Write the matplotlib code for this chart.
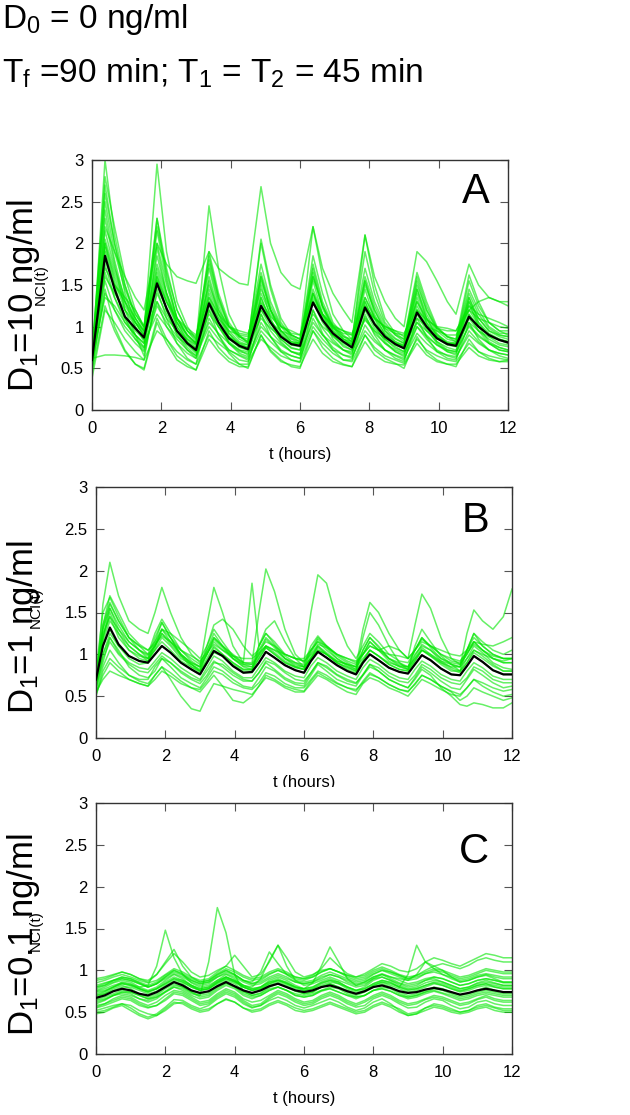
import numpy as np
import matplotlib
matplotlib.use('Agg')
import matplotlib.pyplot as plt
from matplotlib.ticker import FormatStrFormatter
from matplotlib.transforms import Bbox, TransformedBbox

plt.rcParams['font.family'] = ['Liberation Sans', 'DejaVu Sans']
plt.rcParams['mathtext.fontset'] = 'custom'
plt.rcParams['mathtext.rm'] = 'Liberation Sans'
plt.rcParams['mathtext.it'] = 'Liberation Sans'

# ---- panel A : D1 = 10 ng/ml  (time in hours)
t_a = [0, 0.375, 0.65, 0.95, 1.25, 1.5, 1.875, 2.15, 2.45, 2.75, 3.0, 3.375, 3.65, 3.95, 4.25,
       4.5, 4.875, 5.15, 5.45, 5.75, 6.0, 6.375, 6.65, 6.95, 7.25, 7.5, 7.875, 8.15, 8.45, 8.75,
       9.0, 9.375, 9.65, 9.95, 10.25, 10.5, 10.875, 11.15, 11.45, 11.75, 12.0]
mean_a = [0.60, 1.85, 1.45, 1.12, 0.98, 0.87, 1.52, 1.22, 0.95, 0.80, 0.72, 1.28, 1.05, 0.86, 0.77,
          0.73, 1.25, 1.05, 0.88, 0.79, 0.77, 1.29, 1.08, 0.92, 0.82, 0.75, 1.23, 1.03, 0.88, 0.79,
          0.74, 1.17, 1.00, 0.86, 0.79, 0.77, 1.12, 1.00, 0.90, 0.84, 0.81]
cells_a = [
    [0.55, 3.0, 2.1, 1.5, 1.1, 0.95, 2.95, 1.9, 1.3, 1.0, 0.85, 1.85, 1.35, 1.0, 0.85,
     0.8, 1.6, 1.2, 0.95, 0.85, 0.8, 1.7, 1.25, 1.0, 0.85, 0.82, 1.55, 1.2, 0.95, 0.85,
     0.8, 1.45, 1.1, 0.9, 0.82, 0.8, 1.35, 1.1, 0.95, 0.9, 0.88],
    [0.65, 2.4, 1.8, 1.3, 1.0, 0.85, 2.3, 1.6, 1.1, 0.9, 0.8, 2.45, 1.7, 1.15, 0.9,
     0.8, 2.05, 1.5, 1.1, 0.9, 0.85, 2.2, 1.6, 1.15, 0.95, 0.85, 1.9, 1.4, 1.05, 0.9,
     0.82, 1.6, 1.25, 0.98, 0.88, 0.85, 1.62, 1.3, 1.05, 0.95, 0.9],
    [0.6, 2.2, 1.9, 1.6, 1.35, 1.2, 2.0, 1.75, 1.6, 1.55, 1.52, 1.9, 1.7, 1.6, 1.52,
     1.5, 2.68, 2.0, 1.65, 1.5, 1.45, 2.2, 1.7, 1.4, 1.2, 1.05, 2.1, 1.6, 1.3, 1.1,
     1.0, 1.9, 1.78, 1.55, 1.3, 1.15, 1.75, 1.5, 1.35, 1.3, 1.3],
    [0.62, 0.66, 0.66, 0.65, 0.63, 0.6, 0.95, 0.85, 0.7, 0.6, 0.55, 0.9, 0.8, 0.7, 0.6,
     0.58, 0.85, 0.75, 0.65, 0.6, 0.57, 0.95, 0.8, 0.68, 0.6, 0.58, 0.9, 0.75, 0.65, 0.6,
     0.56, 0.85, 0.72, 0.65, 0.6, 0.58, 0.8, 0.7, 0.65, 0.62, 0.6],
    [0.55, 2.0, 1.6, 1.25, 1.05, 0.9, 1.7, 1.35, 1.05, 0.85, 0.75, 1.45, 1.15, 0.92, 0.8,
     0.75, 1.4, 1.15, 0.95, 0.82, 0.8, 1.45, 1.15, 0.95, 0.85, 0.78, 1.35, 1.1, 0.92, 0.82,
     0.76, 1.3, 1.05, 0.9, 0.8, 0.78, 1.25, 1.05, 0.92, 0.85, 0.82],
    [0.5, 1.55, 1.2, 0.95, 0.8, 0.7, 1.3, 1.0, 0.8, 0.68, 0.62, 1.1, 0.9, 0.72, 0.65,
     0.6, 1.05, 0.88, 0.72, 0.65, 0.62, 1.1, 0.9, 0.75, 0.66, 0.62, 1.02, 0.85, 0.72, 0.65,
     0.6, 1.0, 0.85, 0.72, 0.65, 0.62, 0.95, 0.82, 0.72, 0.68, 0.66],
    [0.45, 1.25, 0.95, 0.7, 0.55, 0.5, 1.1, 0.85, 0.65, 0.55, 0.48, 0.95, 0.75, 0.62, 0.55,
     0.5, 0.9, 0.72, 0.6, 0.52, 0.5, 0.95, 0.75, 0.62, 0.55, 0.52, 0.9, 0.72, 0.62, 0.56,
     0.5, 0.88, 0.7, 0.6, 0.55, 0.52, 0.85, 0.7, 0.62, 0.58, 0.6],
    [0.7, 2.6, 2.0, 1.5, 1.15, 1.0, 2.0, 1.5, 1.1, 0.9, 0.8, 1.9, 1.4, 1.05, 0.88,
     0.82, 2.0, 1.45, 1.05, 0.88, 0.82, 1.85, 1.4, 1.05, 0.9, 0.82, 2.1, 1.5, 1.1, 0.92,
     0.85, 1.65, 1.3, 1.0, 0.88, 0.82, 1.55, 1.25, 1.05, 0.95, 0.95],
    [0.6, 1.8, 1.5, 1.3, 1.1, 0.95, 1.6, 1.3, 1.05, 0.9, 0.8, 1.3, 1.1, 0.95, 0.9,
     0.88, 1.2, 1.05, 0.95, 0.9, 0.85, 1.3, 1.15, 1.0, 0.95, 0.9, 1.2, 1.1, 1.0, 0.95,
     0.88, 1.1, 1.0, 0.95, 0.9, 0.9, 1.2, 1.3, 1.35, 1.3, 1.25],
    [0.58, 1.75, 1.35, 1.05, 0.9, 0.8, 1.5, 1.2, 0.95, 0.8, 0.7, 1.25, 1.0, 0.82, 0.72,
     0.7, 1.2, 1.0, 0.85, 0.75, 0.72, 1.3, 1.05, 0.88, 0.78, 0.72, 1.2, 0.98, 0.85, 0.76,
     0.7, 1.15, 0.95, 0.82, 0.75, 0.72, 1.1, 0.95, 0.85, 0.78, 0.76],
    [0.62, 2.15, 1.7, 1.35, 1.1, 0.92, 1.85, 1.4, 1.05, 0.82, 0.72, 1.6, 1.2, 0.92, 0.78,
     0.75, 1.55, 1.2, 0.95, 0.82, 0.8, 1.6, 1.25, 0.98, 0.85, 0.8, 1.5, 1.2, 0.95, 0.82,
     0.78, 1.45, 1.15, 0.92, 0.8, 0.8, 1.3, 1.1, 0.95, 0.88, 0.85],
    [0.55, 1.4, 1.2, 1.0, 0.85, 0.75, 1.25, 1.05, 0.88, 0.78, 0.68, 1.05, 0.92, 0.8, 0.72,
     0.66, 1.0, 0.88, 0.78, 0.7, 0.68, 1.05, 0.9, 0.8, 0.72, 0.7, 1.1, 0.92, 0.8, 0.72,
     0.68, 1.0, 0.88, 0.78, 0.72, 0.7, 1.0, 0.88, 0.8, 0.75, 0.72],
    [0.5, 1.95, 1.5, 1.1, 0.85, 0.72, 1.6, 1.2, 0.9, 0.72, 0.62, 1.35, 1.05, 0.8, 0.68,
     0.64, 1.35, 1.05, 0.82, 0.7, 0.66, 1.4, 1.1, 0.85, 0.72, 0.66, 1.3, 1.02, 0.82, 0.7,
     0.64, 1.2, 0.98, 0.8, 0.7, 0.66, 1.15, 0.95, 0.8, 0.72, 0.7],
    [0.65, 2.8, 2.2, 1.6, 1.2, 1.0, 2.3, 1.7, 1.2, 0.95, 0.82, 1.75, 1.3, 1.0, 0.88,
     0.85, 1.75, 1.3, 1.02, 0.9, 0.85, 1.6, 1.25, 1.0, 0.88, 0.85, 1.7, 1.3, 1.02, 0.9,
     0.85, 1.5, 1.2, 0.98, 0.88, 0.85, 1.45, 1.2, 1.0, 0.92, 0.92],
    [0.38, 1.2, 1.05, 0.85, 0.7, 0.6, 1.45, 1.1, 0.8, 0.62, 0.55, 1.2, 0.9, 0.68, 0.55,
     0.55, 1.15, 0.88, 0.7, 0.6, 0.58, 1.2, 0.92, 0.72, 0.6, 0.6, 1.15, 0.9, 0.72, 0.62,
     0.58, 1.1, 0.88, 0.7, 0.62, 0.6, 1.05, 0.85, 0.72, 0.65, 0.62],
    [0.6, 1.9, 1.45, 1.12, 0.95, 0.85, 1.55, 1.2, 0.95, 0.8, 0.72, 1.3, 1.05, 0.85, 0.76,
     0.72, 1.28, 1.05, 0.88, 0.78, 0.76, 1.32, 1.08, 0.9, 0.8, 0.75, 1.25, 1.02, 0.88, 0.78,
     0.74, 1.2, 1.0, 0.86, 0.78, 0.76, 1.15, 1.0, 0.9, 0.84, 0.8],
    [0.58, 2.3, 1.75, 1.2, 0.9, 0.75, 1.95, 1.4, 1.0, 0.8, 0.7, 1.55, 1.15, 0.88, 0.75,
     0.72, 1.5, 1.1, 0.85, 0.74, 0.72, 1.55, 1.15, 0.9, 0.76, 0.72, 1.45, 1.1, 0.85, 0.74,
     0.7, 1.35, 1.05, 0.82, 0.72, 0.7, 1.3, 1.0, 0.82, 0.75, 0.72],
    [0.52, 1.65, 1.35, 1.1, 0.9, 0.65, 1.4, 1.15, 0.92, 0.75, 0.65, 1.2, 1.0, 0.8, 0.7,
     0.68, 1.15, 0.95, 0.8, 0.7, 0.66, 1.2, 0.98, 0.82, 0.72, 0.68, 1.12, 0.95, 0.8, 0.7,
     0.66, 1.05, 0.9, 0.78, 0.7, 0.68, 1.02, 0.9, 0.8, 0.72, 0.7],
    [0.66, 2.5, 1.9, 1.45, 1.15, 0.98, 2.2, 1.65, 1.2, 0.95, 0.85, 1.8, 1.35, 1.02, 0.88,
     0.82, 1.65, 1.25, 1.0, 0.86, 0.82, 1.75, 1.3, 1.02, 0.88, 0.82, 1.6, 1.25, 0.98, 0.86,
     0.8, 1.55, 1.2, 0.95, 0.85, 0.82, 1.4, 1.15, 0.98, 0.9, 0.88],
    [0.48, 1.45, 1.0, 0.72, 0.55, 0.48, 1.05, 0.8, 0.6, 0.52, 0.48, 0.85, 0.7, 0.58, 0.52,
     0.52, 0.9, 0.7, 0.58, 0.54, 0.52, 0.85, 0.68, 0.58, 0.54, 0.52, 0.82, 0.66, 0.58, 0.55,
     0.54, 0.8, 0.66, 0.58, 0.55, 0.55, 0.75, 0.65, 0.6, 0.58, 0.58],
    [0.6, 2.05, 1.65, 1.3, 1.05, 0.95, 1.75, 1.4, 1.1, 0.95, 0.88, 1.5, 1.2, 1.0, 0.92,
     0.9, 1.45, 1.2, 1.0, 0.92, 0.9, 1.4, 1.15, 0.98, 0.92, 0.9, 1.35, 1.12, 0.98, 0.92,
     0.9, 1.3, 1.1, 0.98, 0.95, 0.95, 1.25, 1.15, 1.1, 1.05, 1.0],
    [0.7, 1.6, 1.4, 1.2, 1.05, 0.9, 1.3, 1.1, 0.95, 0.85, 0.78, 1.15, 1.0, 0.88, 0.8,
     0.78, 1.1, 0.98, 0.88, 0.8, 0.8, 1.15, 1.0, 0.9, 0.82, 0.8, 1.08, 0.95, 0.86, 0.8,
     0.78, 1.05, 0.95, 0.86, 0.8, 0.8, 1.05, 0.95, 0.88, 0.84, 0.82],
    [0.55, 2.7, 2.0, 1.4, 1.05, 0.88, 2.15, 1.55, 1.1, 0.88, 0.78, 1.7, 1.25, 0.95, 0.82,
     0.78, 1.6, 1.2, 0.92, 0.8, 0.78, 1.65, 1.22, 0.95, 0.82, 0.78, 1.55, 1.15, 0.9, 0.8,
     0.76, 1.4, 1.1, 0.88, 0.8, 0.78, 1.35, 1.05, 0.88, 0.8, 0.78],
    [0.62, 1.35, 1.25, 1.05, 0.9, 0.8, 1.15, 1.0, 0.85, 0.72, 0.65, 1.0, 0.85, 0.72, 0.66,
     0.62, 0.95, 0.82, 0.7, 0.65, 0.62, 1.0, 0.85, 0.72, 0.66, 0.64, 0.95, 0.82, 0.72, 0.66,
     0.62, 0.92, 0.8, 0.7, 0.66, 0.64, 0.9, 0.8, 0.72, 0.68, 0.66],
    [0.58, 2.0, 1.55, 1.2, 1.0, 0.82, 1.65, 1.3, 1.0, 0.82, 0.74, 1.4, 1.1, 0.88, 0.78,
     0.74, 1.35, 1.08, 0.9, 0.8, 0.78, 1.4, 1.12, 0.92, 0.82, 0.78, 1.3, 1.05, 0.9, 0.8,
     0.76, 1.25, 1.02, 0.88, 0.8, 0.78, 1.2, 1.02, 0.9, 0.85, 0.82],
    [0.64, 1.7, 1.5, 1.35, 1.2, 1.0, 1.55, 1.3, 1.1, 0.98, 0.9, 1.35, 1.15, 1.0, 0.95,
     0.92, 1.3, 1.12, 1.0, 0.95, 0.9, 1.35, 1.15, 1.02, 0.95, 0.92, 1.25, 1.1, 1.0, 0.95,
     0.92, 1.2, 1.08, 1.0, 0.98, 0.95, 1.2, 1.1, 1.05, 1.0, 0.98],
]

# ---- panel B : D1 = 1 ng/ml
t_b = [0, 0.2, 0.4, 0.65, 0.95, 1.25, 1.5, 1.7, 1.9, 2.15, 2.45, 2.75, 3.0, 3.2, 3.4, 3.65, 3.95,
       4.25, 4.5, 4.7, 4.9, 5.15, 5.45, 5.75, 6.0, 6.2, 6.4, 6.65, 6.95, 7.25, 7.5, 7.7, 7.9,
       8.15, 8.45, 8.75, 9.0, 9.2, 9.4, 9.65, 9.95, 10.25, 10.5, 10.7, 10.9, 11.15, 11.45,
       11.75, 12.0]
mean_b = [0.70, 1.10, 1.32, 1.12, 0.98, 0.92, 0.90, 1.00, 1.10, 1.02, 0.90, 0.82, 0.76, 0.90,
          1.04, 0.98, 0.86, 0.78, 0.79, 0.90, 1.03, 0.96, 0.87, 0.81, 0.78, 0.92, 1.03, 0.96,
          0.87, 0.80, 0.76, 0.90, 1.00, 0.93, 0.84, 0.79, 0.77, 0.88, 0.99, 0.93, 0.83, 0.76,
          0.75, 0.86, 0.98, 0.91, 0.81, 0.76, 0.76]
cells_b = [
    [0.6, 1.6, 2.1, 1.7, 1.4, 1.3, 1.25, 1.5, 1.8, 1.5, 1.2, 1.0, 0.9, 1.05, 1.2, 1.1, 1.0, 0.9,
     0.88, 1.0, 1.1, 1.05, 0.95, 0.9, 0.85, 0.95, 1.05, 1.0, 0.92, 0.88, 0.85, 0.95, 1.05, 0.98,
     0.9, 0.86, 0.85, 0.95, 1.05, 1.0, 0.92, 0.88, 0.85, 0.95, 1.05, 1.0, 0.95, 0.92, 0.95],
    [0.7, 1.3, 1.6, 1.4, 1.2, 1.1, 1.0, 1.1, 1.25, 1.15, 1.0, 0.9, 0.85, 1.35, 1.8, 1.5, 1.1, 0.9,
     0.9, 1.5, 2.02, 1.75, 1.3, 1.0, 0.9, 1.05, 1.2, 1.1, 1.0, 0.92, 0.88, 1.0, 1.15, 1.05,
     0.95, 0.9, 0.85, 1.0, 1.1, 1.05, 0.95, 0.9, 0.88, 1.0, 1.15, 1.05, 0.95, 0.9, 0.9],
    [0.65, 1.2, 1.45, 1.3, 1.15, 1.05, 0.98, 1.1, 1.3, 1.2, 1.05, 0.95, 0.88, 1.0, 1.2, 1.1, 0.98,
     0.9, 1.85, 1.1, 1.25, 1.15, 1.0, 0.95, 0.92, 1.5, 1.95, 1.85, 1.4, 1.1, 0.95, 1.1, 1.25,
     1.15, 1.0, 0.92, 0.9, 1.05, 1.2, 1.1, 1.0, 0.92, 0.9, 1.05, 1.2, 1.1, 1.0, 0.95, 0.95],
    [0.55, 0.7, 0.8, 0.75, 0.7, 0.65, 0.62, 0.75, 0.85, 0.7, 0.5, 0.35, 0.32, 0.5, 0.65, 0.62,
     0.58, 0.55, 0.52, 0.62, 0.72, 0.68, 0.6, 0.55, 0.55, 0.65, 0.75, 0.7, 0.62, 0.55, 0.52,
     0.65, 0.72, 0.68, 0.6, 0.55, 0.5, 0.6, 0.7, 0.65, 0.58, 0.52, 0.5, 0.6, 0.7, 0.62, 0.55,
     0.5, 0.52],
    [0.72, 1.3, 1.55, 1.35, 1.15, 1.05, 0.95, 1.1, 1.3, 1.15, 1.0, 0.9, 0.85, 1.0, 1.15, 1.05,
     0.95, 0.88, 0.85, 0.98, 1.1, 1.02, 0.92, 0.85, 0.82, 0.98, 1.1, 1.02, 0.92, 0.88, 0.85,
     1.3, 1.62, 1.5, 1.25, 1.05, 0.95, 1.35, 1.72, 1.55, 1.2, 0.95, 0.88, 1.0, 1.15, 1.05, 0.95,
     0.9, 0.9],
    [0.68, 1.15, 1.4, 1.25, 1.1, 1.0, 0.92, 1.05, 1.2, 1.1, 0.95, 0.88, 0.8, 0.95, 1.1, 1.0, 0.9,
     0.82, 0.82, 0.95, 1.08, 1.0, 0.9, 0.85, 0.82, 0.95, 1.1, 1.0, 0.9, 0.85, 0.8, 0.92, 1.05,
     0.98, 0.88, 0.82, 0.8, 0.92, 1.05, 0.98, 0.9, 0.85, 0.85, 1.25, 1.53, 1.4, 1.3, 1.45, 1.78],
    [0.5, 0.8, 0.95, 0.85, 0.75, 0.68, 0.65, 0.75, 0.85, 0.78, 0.68, 0.6, 0.55, 0.65, 0.75, 0.62,
     0.45, 0.42, 0.5, 0.62, 0.75, 0.7, 0.62, 0.58, 0.56, 0.68, 0.78, 0.72, 0.65, 0.6, 0.56, 0.68,
     0.78, 0.72, 0.64, 0.58, 0.55, 0.65, 0.75, 0.7, 0.62, 0.55, 0.45, 0.5, 0.6, 0.55, 0.5, 0.45,
     0.48],
    [0.6, 0.95, 1.15, 1.0, 0.88, 0.8, 0.78, 0.88, 0.98, 0.9, 0.8, 0.72, 0.68, 0.8, 0.92, 0.85,
     0.75, 0.68, 0.68, 0.78, 0.9, 0.82, 0.72, 0.66, 0.65, 0.78, 0.9, 0.84, 0.75, 0.68, 0.65,
     0.76, 0.88, 0.8, 0.7, 0.64, 0.6, 0.7, 0.82, 0.75, 0.6, 0.5, 0.4, 0.38, 0.42, 0.4, 0.36,
     0.36, 0.42],
    [0.72, 1.1, 1.3, 1.1, 0.98, 0.92, 0.9, 1.0, 1.1, 1.02, 0.9, 0.82, 0.76, 0.9, 1.05, 0.98, 0.86,
     0.78, 0.78, 0.9, 1.03, 0.96, 0.87, 0.81, 0.78, 0.92, 1.03, 0.96, 0.87, 0.8, 0.76, 0.9, 1.0,
     0.93, 0.84, 0.79, 0.77, 0.88, 0.99, 0.93, 0.83, 0.76, 0.75, 0.86, 0.98, 0.91, 0.81, 0.76,
     0.76],
    [0.8, 1.5, 1.68, 1.45, 1.2, 1.05, 1.0, 1.25, 1.42, 1.25, 1.05, 0.92, 0.85, 1.1, 1.3, 1.15,
     0.98, 0.88, 0.88, 1.1, 1.25, 1.12, 0.98, 0.9, 0.88, 1.1, 1.22, 1.1, 0.98, 0.9, 0.85, 1.05,
     1.2, 1.08, 0.95, 0.88, 0.85, 1.05, 1.2, 1.08, 0.95, 0.88, 0.85, 1.05, 1.25, 1.15, 1.05, 1.0,
     1.05],
    [0.55, 0.85, 1.05, 0.9, 0.75, 0.7, 0.7, 0.85, 0.95, 0.85, 0.72, 0.65, 0.6, 0.72, 0.85, 0.8,
     0.7, 0.62, 0.6, 0.72, 0.85, 0.8, 0.7, 0.64, 0.62, 0.75, 0.88, 0.8, 0.7, 0.65, 0.62, 0.75,
     0.85, 0.8, 0.7, 0.64, 0.6, 0.72, 0.85, 0.78, 0.68, 0.6, 0.58, 0.7, 0.82, 0.75, 0.66, 0.6,
     0.62],
    [0.62, 1.2, 1.55, 1.3, 1.1, 1.0, 0.95, 1.2, 1.38, 1.2, 1.0, 0.88, 0.8, 1.05, 1.25, 1.1, 0.95,
     0.85, 0.82, 1.05, 1.2, 1.1, 0.95, 0.86, 0.85, 1.05, 1.15, 1.05, 0.95, 0.88, 0.82, 1.05, 1.2,
     1.1, 0.95, 0.86, 0.82, 1.1, 1.3, 1.15, 0.98, 0.88, 0.8, 1.05, 1.25, 1.1, 1.0, 0.95, 0.95],
    [0.75, 1.25, 1.45, 1.2, 1.05, 0.98, 0.95, 1.05, 1.15, 1.05, 0.92, 0.85, 0.8, 0.92, 1.08, 1.0,
     0.9, 0.82, 0.82, 0.95, 1.08, 1.0, 0.9, 0.84, 0.82, 0.95, 1.08, 1.0, 0.9, 0.84, 0.8, 0.92,
     1.05, 0.98, 0.88, 0.82, 0.8, 0.92, 1.05, 0.98, 0.88, 0.8, 0.8, 0.9, 1.02, 0.95, 0.86, 0.8,
     0.8],
    [0.6, 0.9, 1.2, 1.05, 0.85, 0.75, 0.72, 0.8, 0.95, 0.9, 0.78, 0.7, 0.65, 0.75, 0.9, 0.88,
     0.78, 0.7, 0.68, 0.78, 0.92, 0.88, 0.78, 0.7, 0.68, 0.78, 0.9, 0.86, 0.76, 0.7, 0.66, 0.75,
     0.88, 0.84, 0.74, 0.68, 0.66, 0.75, 0.88, 0.82, 0.72, 0.66, 0.64, 0.72, 0.85, 0.8, 0.7,
     0.66, 0.66],
    [0.7, 1.35, 1.62, 1.4, 1.2, 1.1, 1.05, 1.15, 1.3, 1.25, 1.15, 1.05, 0.95, 1.1, 1.35, 1.42,
     1.3, 1.1, 0.98, 1.05, 1.15, 1.1, 1.0, 0.95, 0.92, 1.0, 1.12, 1.08, 1.0, 0.95, 0.9, 1.0, 1.1,
     1.05, 1.1, 1.05, 0.95, 1.05, 1.18, 1.1, 1.0, 0.95, 0.92, 1.02, 1.12, 1.05, 0.98, 0.95, 0.95],
    [0.52, 0.75, 0.9, 0.8, 0.7, 0.65, 0.62, 0.7, 0.8, 0.74, 0.65, 0.6, 0.58, 0.68, 0.8, 0.76,
     0.66, 0.6, 0.58, 0.66, 0.78, 0.74, 0.65, 0.6, 0.6, 0.7, 0.8, 0.75, 0.66, 0.6, 0.58, 0.66,
     0.76, 0.72, 0.64, 0.58, 0.56, 0.64, 0.75, 0.7, 0.62, 0.56, 0.52, 0.6, 0.7, 0.66, 0.6, 0.56,
     0.58],
    [0.68, 1.2, 1.5, 1.25, 1.05, 0.95, 0.92, 1.08, 1.25, 1.12, 0.98, 0.88, 0.82, 1.0, 1.18, 1.08,
     0.95, 0.86, 0.85, 1.0, 1.18, 1.08, 0.95, 0.88, 0.85, 1.02, 1.18, 1.08, 0.95, 0.86, 0.82, 1.0,
     1.15, 1.05, 0.92, 0.85, 0.82, 0.98, 1.12, 1.05, 0.92, 0.84, 0.8, 0.95, 1.1, 1.02, 0.9, 0.84,
     0.82],
    [0.62, 1.0, 1.25, 1.1, 0.95, 0.88, 0.9, 1.15, 1.38, 1.2, 0.98, 0.85, 0.78, 0.9, 1.02, 0.98,
     0.88, 0.8, 0.8, 1.1, 1.3, 1.4, 1.15, 0.95, 0.85, 0.95, 1.05, 1.0, 0.9, 0.82, 0.78, 1.2, 1.5,
     1.35, 1.1, 0.9, 0.82, 0.95, 1.08, 1.0, 0.9, 0.82, 0.78, 0.9, 1.05, 0.98, 0.88, 0.8, 0.8],
    [0.66, 1.0, 1.2, 1.02, 0.9, 0.84, 0.82, 0.92, 1.02, 0.95, 0.84, 0.76, 0.7, 0.84, 0.98, 0.92,
     0.8, 0.72, 0.72, 0.84, 0.96, 0.9, 0.8, 0.74, 0.72, 0.86, 0.96, 0.9, 0.8, 0.74, 0.7, 0.84,
     0.94, 0.88, 0.78, 0.72, 0.7, 0.82, 0.92, 0.86, 0.76, 0.7, 0.68, 0.8, 0.9, 0.84, 0.74, 0.7,
     0.7],
    [0.78, 1.35, 1.7, 1.5, 1.25, 1.12, 1.05, 1.12, 1.22, 1.15, 1.05, 0.98, 0.92, 1.02, 1.12, 1.05,
     0.98, 0.95, 0.95, 1.02, 1.1, 1.05, 1.0, 0.95, 0.95, 1.05, 1.15, 1.1, 1.0, 0.95, 0.92, 1.0,
     1.1, 1.05, 1.0, 0.98, 0.95, 1.05, 1.15, 1.1, 1.05, 1.0, 0.98, 1.05, 1.15, 1.12, 1.1, 1.15,
     1.2],
]

# ---- panel C : D1 = 0.1 ng/ml
t_c = [0, 0.25, 0.5, 0.75, 1.0, 1.25, 1.5, 1.75, 2.0, 2.25, 2.5, 2.75, 3.0, 3.25, 3.5, 3.75, 4.0,
       4.25, 4.5, 4.75, 5.0, 5.25, 5.5, 5.75, 6.0, 6.25, 6.5, 6.75, 7.0, 7.25, 7.5, 7.75, 8.0,
       8.25, 8.5, 8.75, 9.0, 9.25, 9.5, 9.75, 10.0, 10.25, 10.5, 10.75, 11.0, 11.25, 11.5, 11.75,
       12.0]
mean_c = [0.67, 0.70, 0.75, 0.78, 0.76, 0.72, 0.70, 0.74, 0.80, 0.86, 0.82, 0.76, 0.73, 0.75,
          0.81, 0.86, 0.81, 0.76, 0.73, 0.76, 0.81, 0.84, 0.80, 0.76, 0.74, 0.76, 0.80, 0.82,
          0.79, 0.75, 0.72, 0.75, 0.80, 0.82, 0.79, 0.75, 0.73, 0.74, 0.77, 0.79, 0.77, 0.74,
          0.71, 0.73, 0.76, 0.78, 0.76, 0.74, 0.74]
cells_c = [
    [0.75, 0.78, 0.82, 0.85, 0.83, 0.80, 0.82, 1.05, 1.48, 1.15, 0.95, 0.85, 0.80, 0.82, 0.88, 0.92, 0.87,
     0.82, 0.78, 0.80, 0.86, 0.90, 0.85, 0.80, 0.78, 0.80, 0.85, 0.88, 0.84, 0.80, 0.76, 0.78, 0.84,
     0.88, 0.85, 0.80, 0.77, 0.78, 0.82, 0.85, 0.82, 0.78, 0.75, 0.78, 0.82, 0.84, 0.80, 0.78, 0.78],
    [0.62, 0.65, 0.70, 0.72, 0.70, 0.66, 0.64, 0.68, 0.74, 0.80, 0.78, 0.72, 0.70, 1.10, 1.75, 1.45, 0.95,
     0.75, 0.70, 0.72, 0.78, 0.80, 0.76, 0.72, 0.70, 0.72, 0.76, 0.78, 0.74, 0.70, 0.68, 0.70, 0.76,
     0.78, 0.75, 0.70, 0.68, 0.70, 0.74, 0.76, 0.73, 0.70, 0.66, 0.68, 0.72, 0.74, 0.72, 0.70, 0.70],
    [0.85, 0.88, 0.92, 0.95, 0.92, 0.88, 0.85, 0.88, 0.95, 1.02, 0.98, 0.92, 0.88, 0.90, 0.98, 1.05, 1.18,
     1.05, 0.92, 0.95, 1.10, 1.30, 1.15, 0.98, 0.92, 0.95, 1.00, 1.02, 0.98, 0.92, 0.88, 0.90, 0.96,
     1.00, 0.98, 0.94, 0.90, 0.92, 0.96, 0.98, 0.95, 0.92, 0.88, 0.90, 0.94, 0.96, 0.94, 0.92, 0.92],
    [0.50, 0.52, 0.56, 0.60, 0.58, 0.52, 0.48, 0.46, 0.52, 0.60, 0.62, 0.56, 0.52, 0.54, 0.60, 0.65, 0.62,
     0.55, 0.52, 0.54, 0.60, 0.64, 0.60, 0.55, 0.52, 0.54, 0.58, 0.62, 0.58, 0.54, 0.50, 0.52, 0.58,
     0.62, 0.58, 0.54, 0.48, 0.50, 0.55, 0.58, 0.56, 0.52, 0.50, 0.52, 0.56, 0.58, 0.55, 0.52, 0.52],
    [0.72, 0.75, 0.80, 0.84, 0.82, 0.78, 0.75, 0.78, 0.84, 0.90, 0.86, 0.80, 0.76, 0.78, 0.85, 0.90, 0.86,
     0.80, 0.76, 0.80, 0.86, 0.88, 0.84, 0.80, 0.78, 0.85, 1.05, 1.28, 1.10, 0.90, 0.82, 0.84, 0.90,
     0.92, 0.88, 0.84, 0.80, 0.82, 0.88, 0.90, 0.86, 0.82, 0.78, 0.80, 0.84, 0.86, 0.84, 0.82, 0.82],
    [0.65, 0.68, 0.72, 0.76, 0.74, 0.70, 0.66, 0.70, 0.78, 0.84, 0.80, 0.74, 0.70, 0.72, 0.80, 0.85, 0.80,
     0.74, 0.70, 0.73, 0.80, 0.84, 0.80, 0.75, 0.72, 0.74, 0.80, 0.84, 0.80, 0.76, 0.72, 0.75, 0.82,
     0.86, 0.84, 0.80, 0.95, 1.30, 1.10, 1.05, 1.00, 0.92, 0.86, 0.88, 0.92, 0.94, 0.90, 0.86, 0.86],
    [0.78, 0.82, 0.88, 0.92, 0.90, 0.85, 0.80, 0.84, 0.92, 1.00, 0.95, 0.88, 0.84, 0.86, 0.94, 1.00, 0.95,
     0.88, 0.84, 0.88, 0.95, 1.00, 0.95, 0.90, 0.88, 0.92, 0.98, 1.02, 0.98, 0.94, 0.92, 0.96, 1.02,
     1.08, 1.05, 1.00, 0.98, 1.02, 1.10, 1.15, 1.12, 1.08, 1.05, 1.10, 1.15, 1.20, 1.18, 1.15, 1.15],
    [0.60, 0.64, 0.70, 0.74, 0.72, 0.66, 0.62, 0.66, 0.74, 0.80, 0.76, 0.70, 0.66, 0.68, 0.76, 0.82, 0.78,
     0.70, 0.66, 0.70, 0.76, 0.80, 0.76, 0.70, 0.68, 0.70, 0.75, 0.78, 0.74, 0.70, 0.66, 0.70, 0.76,
     0.78, 0.75, 0.70, 0.66, 0.68, 0.72, 0.75, 0.72, 0.68, 0.64, 0.66, 0.70, 0.72, 0.70, 0.68, 0.68],
    [0.90, 0.92, 0.95, 0.98, 0.95, 0.90, 0.86, 0.95, 1.10, 1.25, 1.05, 0.92, 0.86, 0.88, 0.95, 1.00, 0.95,
     0.88, 0.84, 0.86, 0.92, 0.96, 0.92, 0.86, 0.84, 0.86, 0.92, 0.95, 0.92, 0.86, 0.82, 0.86, 0.92,
     0.96, 0.92, 0.88, 0.84, 0.86, 0.90, 0.92, 0.90, 0.86, 0.82, 0.84, 0.88, 0.90, 0.88, 0.85, 0.85],
    [0.55, 0.58, 0.62, 0.66, 0.64, 0.58, 0.55, 0.58, 0.64, 0.72, 0.70, 0.64, 0.58, 0.60, 0.68, 0.74, 0.70,
     0.62, 0.56, 0.58, 0.66, 0.72, 0.68, 0.62, 0.58, 0.60, 0.66, 0.70, 0.66, 0.60, 0.56, 0.58, 0.66,
     0.70, 0.66, 0.60, 0.55, 0.56, 0.62, 0.66, 0.64, 0.58, 0.54, 0.56, 0.62, 0.64, 0.60, 0.58, 0.58],
    [0.70, 0.72, 0.76, 0.80, 0.80, 0.76, 0.72, 0.75, 0.82, 0.88, 0.86, 0.80, 0.76, 0.78, 0.84, 0.90, 0.86,
     0.80, 0.76, 0.78, 0.84, 0.88, 0.84, 0.78, 0.76, 0.78, 0.82, 0.86, 0.84, 0.78, 0.74, 0.76, 0.82,
     0.86, 0.82, 0.78, 0.74, 0.76, 0.80, 0.84, 0.82, 0.78, 0.74, 0.76, 0.80, 0.82, 0.80, 0.78, 0.78],
    [0.80, 0.82, 0.86, 0.90, 0.88, 0.84, 0.80, 0.84, 0.90, 0.96, 0.92, 0.86, 0.82, 0.84, 0.92, 0.98, 0.94,
     0.88, 0.86, 0.98, 1.22, 1.08, 0.95, 0.88, 0.86, 0.88, 0.94, 0.98, 0.94, 0.90, 0.86, 0.88, 0.95,
     1.00, 0.96, 0.92, 0.88, 0.90, 0.96, 1.00, 0.98, 0.94, 0.90, 0.92, 0.96, 1.00, 0.98, 0.96, 0.96],
    [0.52, 0.55, 0.58, 0.60, 0.55, 0.48, 0.44, 0.48, 0.56, 0.65, 0.64, 0.58, 0.54, 0.58, 0.66, 0.72, 0.68,
     0.60, 0.55, 0.58, 0.64, 0.68, 0.64, 0.58, 0.55, 0.58, 0.62, 0.66, 0.62, 0.56, 0.52, 0.55, 0.62,
     0.66, 0.60, 0.52, 0.46, 0.48, 0.55, 0.60, 0.58, 0.54, 0.50, 0.52, 0.58, 0.60, 0.56, 0.54, 0.54],
    [0.76, 0.80, 0.85, 0.88, 0.86, 0.80, 0.76, 0.80, 0.88, 0.95, 0.90, 0.82, 0.78, 0.80, 0.88, 0.95, 0.90,
     0.82, 0.78, 0.80, 0.88, 0.92, 0.88, 0.82, 0.78, 0.80, 0.86, 0.90, 0.86, 0.80, 0.76, 0.80, 0.88,
     0.92, 0.88, 0.82, 0.78, 0.80, 0.85, 0.88, 0.86, 0.82, 0.78, 0.80, 0.85, 0.88, 0.85, 0.82, 0.82],
    [0.68, 0.72, 0.78, 0.82, 0.78, 0.72, 0.68, 0.72, 0.80, 0.86, 0.84, 0.76, 0.72, 0.74, 0.82, 0.88, 0.84,
     0.76, 0.72, 0.76, 0.82, 0.86, 0.82, 0.76, 0.72, 0.74, 0.80, 0.84, 0.80, 0.74, 0.70, 0.74, 0.80,
     0.84, 0.80, 0.74, 0.70, 0.72, 0.76, 0.80, 0.78, 0.74, 0.70, 0.72, 0.76, 0.80, 0.76, 0.74, 0.74],
    [0.82, 0.85, 0.88, 0.90, 0.88, 0.84, 0.80, 0.84, 0.92, 0.98, 0.94, 0.88, 0.84, 0.86, 0.92, 0.96, 0.92,
     0.86, 0.82, 0.84, 0.90, 0.94, 0.90, 0.86, 0.84, 0.86, 0.90, 0.95, 0.92, 0.88, 0.84, 0.86, 0.92,
     0.95, 0.92, 0.90, 0.88, 0.95, 1.10, 1.02, 0.95, 0.90, 0.86, 0.88, 0.92, 0.95, 0.92, 0.90, 0.90],
    [0.58, 0.60, 0.64, 0.68, 0.66, 0.60, 0.56, 0.58, 0.66, 0.74, 0.72, 0.66, 0.60, 0.62, 0.70, 0.76, 0.72,
     0.64, 0.58, 0.60, 0.68, 0.74, 0.70, 0.64, 0.60, 0.62, 0.68, 0.72, 0.68, 0.62, 0.58, 0.62, 0.68,
     0.72, 0.68, 0.62, 0.58, 0.60, 0.65, 0.68, 0.66, 0.62, 0.58, 0.60, 0.65, 0.68, 0.64, 0.62, 0.62],
    [0.88, 0.90, 0.94, 0.98, 0.95, 0.90, 0.88, 0.95, 1.08, 1.20, 1.10, 0.98, 0.92, 0.94, 1.00, 1.05, 1.00,
     0.94, 0.90, 0.92, 0.98, 1.02, 0.98, 0.92, 0.90, 0.94, 1.02, 1.15, 1.05, 0.96, 0.92, 0.94, 1.00,
     1.04, 1.00, 0.95, 0.92, 0.94, 0.98, 1.02, 1.00, 0.96, 0.92, 0.94, 0.98, 1.02, 1.00, 0.98, 0.98],
    [0.64, 0.66, 0.70, 0.74, 0.74, 0.70, 0.66, 0.68, 0.75, 0.82, 0.80, 0.74, 0.68, 0.70, 0.78, 0.84, 0.80,
     0.72, 0.68, 0.70, 0.76, 0.80, 0.76, 0.70, 0.68, 0.70, 0.76, 0.80, 0.78, 0.72, 0.68, 0.70, 0.76,
     0.80, 0.78, 0.72, 0.68, 0.70, 0.74, 0.78, 0.76, 0.72, 0.68, 0.70, 0.74, 0.76, 0.74, 0.72, 0.72],
    [0.48, 0.50, 0.55, 0.58, 0.52, 0.46, 0.42, 0.46, 0.54, 0.62, 0.60, 0.54, 0.50, 0.52, 0.60, 0.66, 0.62,
     0.55, 0.50, 0.52, 0.58, 0.62, 0.58, 0.52, 0.50, 0.52, 0.56, 0.60, 0.56, 0.52, 0.48, 0.50, 0.56,
     0.60, 0.56, 0.50, 0.46, 0.48, 0.52, 0.56, 0.54, 0.50, 0.48, 0.50, 0.54, 0.56, 0.52, 0.50, 0.50],
    [0.74, 0.76, 0.80, 0.84, 0.82, 0.78, 0.74, 0.78, 0.86, 0.92, 0.88, 0.82, 0.78, 0.80, 0.86, 0.92, 0.88,
     0.82, 0.80, 0.90, 1.12, 1.30, 1.05, 0.88, 0.82, 0.84, 0.88, 0.92, 0.88, 0.84, 0.80, 0.82, 0.90,
     0.95, 0.90, 0.85, 0.82, 0.84, 0.88, 0.92, 0.90, 0.86, 0.82, 0.84, 0.88, 0.90, 0.88, 0.86, 0.86],
    [0.70, 0.74, 0.80, 0.86, 0.84, 0.78, 0.74, 0.78, 0.84, 0.90, 0.88, 0.82, 0.76, 0.78, 0.86, 0.92, 0.88,
     0.80, 0.76, 0.78, 0.84, 0.88, 0.86, 0.80, 0.76, 0.78, 0.84, 0.88, 0.86, 0.80, 0.76, 0.78, 0.84,
     0.88, 0.86, 0.80, 0.76, 0.78, 0.82, 0.86, 0.84, 0.80, 0.76, 0.78, 0.82, 0.84, 0.82, 0.80, 0.80],
    [0.80, 0.84, 0.88, 0.92, 0.90, 0.86, 0.82, 0.86, 0.94, 1.00, 0.96, 0.90, 0.86, 0.88, 0.96, 1.02, 0.98,
     0.92, 0.88, 0.90, 0.96, 1.00, 0.96, 0.92, 0.90, 0.92, 0.98, 1.02, 0.98, 0.94, 0.90, 0.92, 0.98,
     1.02, 0.98, 0.94, 0.90, 0.94, 1.00, 1.05, 1.08, 1.05, 1.02, 1.06, 1.12, 1.15, 1.12, 1.10, 1.10],
    [0.56, 0.60, 0.66, 0.70, 0.68, 0.62, 0.58, 0.62, 0.70, 0.76, 0.74, 0.68, 0.62, 0.64, 0.72, 0.78, 0.74,
     0.66, 0.62, 0.64, 0.70, 0.76, 0.72, 0.66, 0.62, 0.64, 0.70, 0.74, 0.70, 0.64, 0.60, 0.64, 0.70,
     0.74, 0.70, 0.64, 0.60, 0.62, 0.66, 0.70, 0.68, 0.64, 0.60, 0.62, 0.66, 0.70, 0.66, 0.64, 0.64],
]

panel_letters = ['A', 'B', 'C']
dose_labels = [r'$\mathrm{D}_1$=10 ng/ml', r'$\mathrm{D}_1$=1 ng/ml', r'$\mathrm{D}_1$=0.1 ng/ml']

W, H = 630, 1115
fig = plt.figure(figsize=(W / 100, H / 100), dpi=100)

def px(x0, y0, x1, y1):
    # pixel box (from top-left) -> figure fraction rect
    return [x0 / W, 1 - y1 / H, (x1 - x0) / W, (y1 - y0) / H]

ax_a = fig.add_axes(px(92, 160, 508, 410))
ax_b = fig.add_axes(px(96, 487, 512, 738))
ax_c = fig.add_axes(px(96, 803, 512, 1054))

green = '#00e600'
panels = [(ax_a, t_a, mean_a, cells_a), (ax_b, t_b, mean_b, cells_b), (ax_c, t_c, mean_c, cells_c)]
letter_pos = [(0.957, 0.828), (0.945, 0.821), (0.945, 0.761)]

for i, (ax, t, m, cells) in enumerate(panels):
    for c in cells:
        ax.plot(t, c, color=green, lw=1.1, alpha=0.6)
    ax.plot(t, m, color='black', lw=1.6, zorder=5)
    ax.set_xlim(0, 12)
    ax.set_ylim(0, 3)
    ax.set_xticks([0, 2, 4, 6, 8, 10, 12])
    ax.set_yticks([0, 0.5, 1, 1.5, 2, 2.5, 3])
    ax.yaxis.set_major_formatter(FormatStrFormatter('%g'))
    ax.tick_params(direction='in', top=True, right=True, length=6, width=0.8,
                   color='#555555', labelsize=12)
    ax.tick_params(axis='x', pad=8)
    ax.tick_params(axis='y', pad=6)
    for s in ax.spines.values():
        s.set_color('#333333')
        s.set_linewidth(1.0)
    ax.set_xlabel('t (hours)', fontsize=12, labelpad=8)
    lx, ly = letter_pos[i]
    ax.text(lx, ly, panel_letters[i], transform=ax.transAxes, fontsize=30,
            ha='right', va='baseline')

# the lower panel hides the bottom of panel B's x label
clip = TransformedBbox(Bbox([[0, 1 - 787 / H], [1, 1]]), fig.transFigure)
ax_b.xaxis.label.set_clip_box(clip)
ax_b.xaxis.label.set_clip_on(True)

# big dose labels on the left, with the small NCI(t) axis label beside them
label_y = [295, 627, 935]
nci_y = [285, 608, 931]
nci_x = [41, 36, 36]
for i in range(3):
    fig.text(5 / W, 1 - label_y[i] / H, dose_labels[i], rotation=90, fontsize=25,
             ha='left', va='center')
    fig.text(nci_x[i] / W, 1 - nci_y[i] / H, 'NCI(t)', rotation=90, fontsize=11,
             ha='center', va='center')

fig.text(2 / W, 1 - 28 / H, r'$\mathrm{D}_0$ = 0 ng/ml', fontsize=24, ha='left', va='baseline')
fig.text(2 / W, 1 - 83 / H, r'$\mathrm{T}_\mathrm{f}$ =90 min; $\mathrm{T}_1$ = $\mathrm{T}_2$ = 45 min',
         fontsize=24, ha='left', va='baseline')

fig.savefig('out.png', dpi=100)
